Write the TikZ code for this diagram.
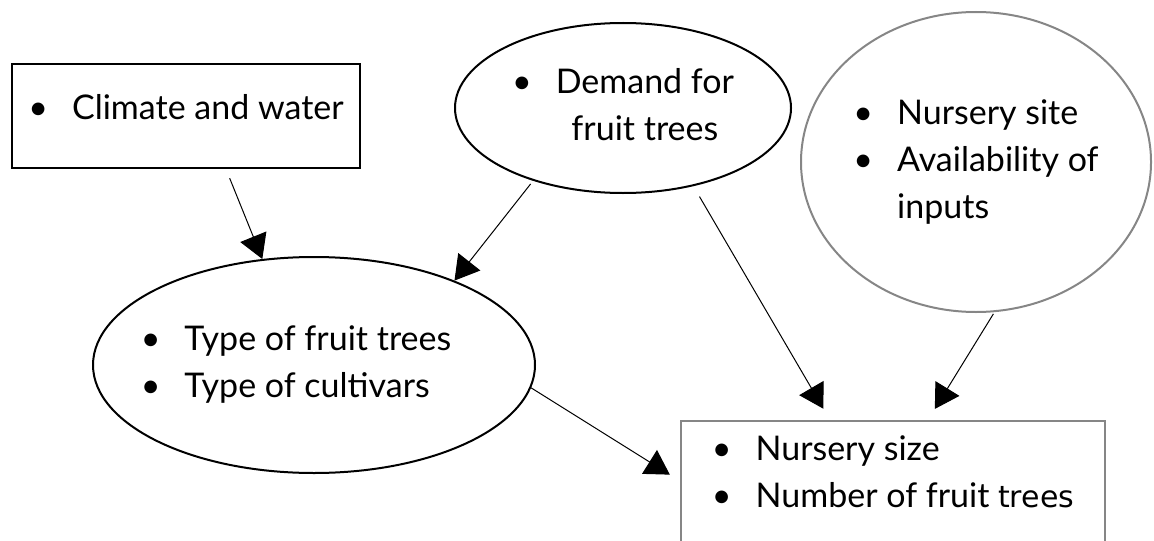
\documentclass[tikz,border=0pt]{standalone}
\usepackage{fontspec}
\setmainfont{Lato}
\newfontfamily\treesfont{DejaVu Sans}
\usepackage{xcolor}
\usepackage{tikz}
\usetikzlibrary{shapes.geometric}
\usetikzlibrary{arrows.meta}
\definecolor{framegray}{RGB}{134,134,134}

\begin{document}
\begin{tikzpicture}[x=0.5pt,y=-0.5pt]
          \useasboundingbox (0,0) rectangle (1154,540);
          \clip (0,0) rectangle (1154,540);
          \begin{scope}[every node/.style={inner sep=0pt,line width=1pt,font=\fontsize{17}{23.5}\selectfont}]
            \node[draw,rectangle,minimum width=174pt,minimum height=52pt] (climate) at (186,116)
              {\raisebox{3pt}[\height][\depth]{\begin{tabular}{@{}l@{\hspace{12pt}}l@{}}\textbullet & Climate and water\end{tabular}}};
            \node[draw,ellipse,minimum width=168pt,minimum height=85pt] (demand) at (623,108)
              {\begin{tabular}{@{}l@{\hspace{12pt}}c@{}}\textbullet & Demand for\\ & fruit trees\end{tabular}};
            \node[draw=framegray,ellipse,minimum width=175pt,minimum height=150pt] (site) at (976,162)
              {\begin{tabular}{@{}l@{\hspace{12pt}}l@{}}\textbullet & Nursery site\\ \textbullet & Availability of\\ & inputs\end{tabular}};
            \node[draw,ellipse,minimum width=221pt,minimum height=108pt] (type) at (314,365)
              {\hspace*{-18pt}\begin{tabular}{@{}l@{\hspace{12pt}}l@{}}\textbullet & Type of fruit trees\\ \textbullet & Type of cultivars\end{tabular}};
            \node[draw=framegray,rectangle,minimum width=212pt,minimum height=77pt] (size) at (893,498)
              {\raisebox{11.5pt}[\height][\depth]{\begin{tabular}{@{}l@{\hspace{12pt}}l@{}}\textbullet & Nursery size\\ \textbullet & Number of fruit {\treesfont\fontsize{15}{23.5}\selectfont trees}\end{tabular}}};
          \end{scope}
          \begin{scope}[every edge/.style={draw=black,line width=0.5pt,-{Triangle[length=12pt,width=14pt]}}]
            \path (climate.-53) edge[shorten <=5pt] (type.116);
            \path (demand.219) edge[shorten <=2pt] (type.31);
            \path (demand.-48) edge[shorten <=6pt,shorten >=6.5pt] ([xshift=-31.5pt]size.north);
            \path (site.-83) edge[shorten <=1pt,shorten >=6.5pt] ([xshift=17.5pt]size.north);
            \path (type.-6) edge[shorten >=6pt] ([yshift=8.5pt]size.west);
          \end{scope}
        \end{tikzpicture}
\end{document}
